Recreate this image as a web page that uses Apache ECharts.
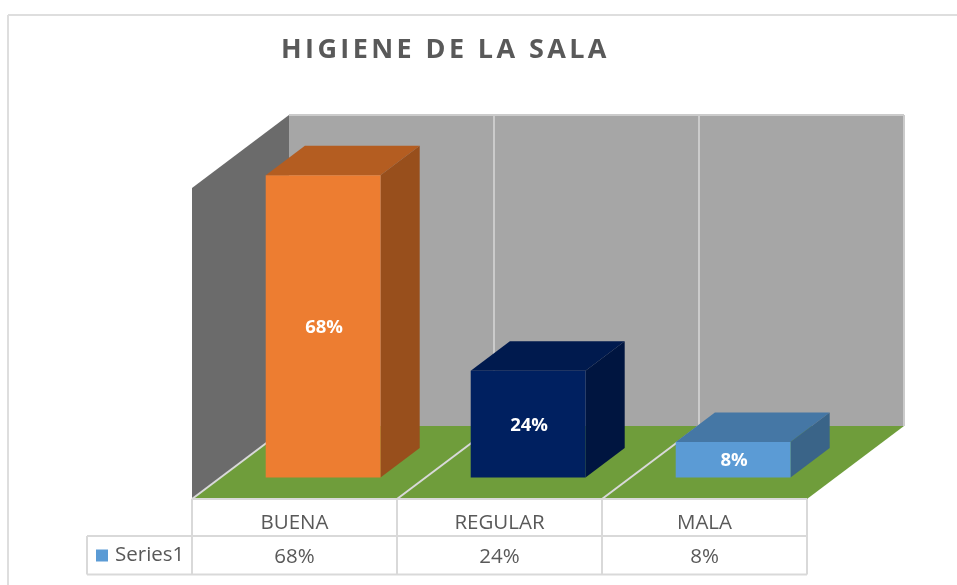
<!DOCTYPE html>
<html>
<head>
<meta charset="utf-8">
<style>html,body{margin:0;padding:0;background:#fff}#c{width:957px;height:585px}</style>
<script src="https://cdn.jsdelivr.net/npm/echarts@6/dist/echarts.min.js"></script>
</head>
<body>
<div id="c"></div>
<script>
const titleText = 'HIGIENE DE LA SALA';
const seriesName = 'Series1';
const categories = ['BUENA', 'REGULAR', 'MALA'];
const values = [0.68, 0.24, 0.08];
const valueLabels = ['68%', '24%', '8%'];
const frontColors = ['#ed7d31', '#002060', '#5b9bd5'];
const topColors = ['#b45d21', '#001a4e', '#4577a5'];
const sideColors = ['#984f1c', '#001540', '#3a6488'];

const DX = 97, DY = 73;           // full floor depth on screen
const GAP = 0.295, BAR_DEPTH = 0.404, BAR_WIDTH = 0.56;
const LINE = '#d9d9d9';
const WALL_LINE = '#cbcbcb';
const FONT = '"Open Sans", sans-serif';

// Canvas letter spacing for the title only; the title stays one text string.
const nativeFill = CanvasRenderingContext2D.prototype.fillText;
CanvasRenderingContext2D.prototype.fillText = function (t, x, y, m) {
  if (t === titleText) {
    const old = this.letterSpacing;
    this.letterSpacing = '3.4px';
    m === undefined ? nativeFill.call(this, t, x, y) : nativeFill.call(this, t, x, y, m);
    this.letterSpacing = old;
    return;
  }
  m === undefined ? nativeFill.call(this, t, x, y) : nativeFill.call(this, t, x, y, m);
};

function poly(points, fill, stroke, z2) {
  return {
    type: 'polygon', z2: z2 || 0,
    shape: { points },
    style: { fill, stroke: stroke || null, lineWidth: stroke ? 1.5 : 0 }
  };
}
function seg(a, b, z2, color) {
  return {
    type: 'line', z2: z2 || 1,
    shape: { x1: a[0], y1: a[1], x2: b[0], y2: b[1] },
    style: { stroke: color || LINE, lineWidth: 2 }
  };
}

function renderFrame(params, api) {
  const i = api.value(0);
  const cw = api.size([1, 0])[0];
  const b = api.coord([i, 0]);
  const t = api.coord([i, 0.7]);
  const l = b[0] - cw / 2, r = b[0] + cw / 2, y0 = b[1], yT = t[1];
  const rowH1 = 37, rowH2 = 38.5;
  const c = [];
  // back wall panel
  c.push(poly([[l + DX, yT - DY], [r + DX, yT - DY], [r + DX, y0 - DY], [l + DX, y0 - DY]], '#a6a6a6'));
  c.push(seg([l + DX, yT - DY], [r + DX, yT - DY], 1, WALL_LINE));
  c.push(seg([r + DX, yT - DY], [r + DX, y0 - DY], 1, WALL_LINE));
  // floor panel
  c.push(poly([[l, y0], [r, y0], [r + DX, y0 - DY], [l + DX, y0 - DY]], '#6f9d3b', null, 2));
  if (i < categories.length - 1) {
    c.push(seg([r, y0], [r + DX, y0 - DY], 3));
  }
  if (i === 0) {
    c.push(poly([[l, y0], [l, yT], [l + DX, yT - DY], [l + DX, y0 - DY]], '#6b6b6b', null, 4));
    c.push(seg([l, y0], [l + DX, y0 - DY], 5));
    c.push(seg([l, y0], [l, y0 + rowH1 + rowH2], 5));
    // legend cell
    c.push(seg([l - 105, y0 + rowH1], [l, y0 + rowH1], 5));
    c.push(seg([l - 105, y0 + rowH1 + rowH2], [l, y0 + rowH1 + rowH2], 5));
    c.push(seg([l - 105, y0 + rowH1], [l - 105, y0 + rowH1 + rowH2], 5));
  }
  // data table cell
  c.push(seg([l, y0], [r, y0], 5));
  c.push(seg([l, y0 + rowH1], [r, y0 + rowH1], 5));
  c.push(seg([l, y0 + rowH1 + rowH2], [r, y0 + rowH1 + rowH2], 5));
  c.push(seg([r, y0], [r, y0 + rowH1 + rowH2], 5));
  return { type: 'group', children: c };
}

function renderBar(params, api) {
  const i = api.value(0), v = api.value(1);
  const cw = api.size([1, 0])[0];
  const base = api.coord([i, 0]), top = api.coord([i, v]);
  const w = cw * BAR_WIDTH;
  const x0 = base[0] - w / 2 + DX * GAP, x1 = x0 + w;
  const yB = base[1] - DY * GAP, yT = top[1] - DY * GAP;
  const dx = DX * BAR_DEPTH, dy = DY * BAR_DEPTH;
  return {
    type: 'group',
    children: [
      poly([[x0, yT], [x1, yT], [x1 + dx, yT - dy], [x0 + dx, yT - dy]], topColors[i]),
      poly([[x1, yT], [x1, yB], [x1 + dx, yB - dy], [x1 + dx, yT - dy]], sideColors[i]),
      poly([[x0, yT], [x1, yT], [x1, yB], [x0, yB]], frontColors[i]),
      {
        type: 'text', z2: 10,
        style: {
          x: (x0 + x1) / 2 + 1, y: (yT + yB) / 2 + 1.5,
          text: valueLabels[i], fill: '#fff',
          font: 'bold 18.5px ' + FONT, align: 'center', verticalAlign: 'middle'
        }
      }
    ]
  };
}

const chart = echarts.init(document.getElementById('c'), null, { renderer: 'canvas' });
chart.setOption({
  animation: false,
  backgroundColor: '#fff',
  title: {
    text: titleText, left: 276, top: 32,
    textStyle: { color: '#595959', fontFamily: FONT, fontWeight: 'bold', fontSize: 27 }
  },
  legend: {
    data: [{ name: seriesName, icon: 'rect', itemStyle: { color: '#5b9bd5' } }],
    left: 96, top: 545, itemWidth: 12, itemHeight: 12, itemGap: 6, padding: 0,
    selectedMode: false,
    textStyle: { color: '#595959', fontFamily: FONT, fontSize: 20.5, padding: [2, 0, 0, 2] }
  },
  grid: { left: 192, right: 150, top: 188, bottom: 86 },
  xAxis: [
    {
      type: 'category', data: categories, position: 'bottom',
      axisLine: { show: false }, axisTick: { show: false }, splitLine: { show: false },
      axisLabel: { color: '#595959', fontFamily: FONT, fontSize: 20.5, margin: 14 }
    },
    {
      type: 'category', data: valueLabels, position: 'bottom', offset: 34,
      axisLine: { show: false }, axisTick: { show: false }, splitLine: { show: false },
      axisLabel: { color: '#595959', fontFamily: FONT, fontSize: 20.5, margin: 14 }
    }
  ],
  yAxis: { type: 'value', min: 0, max: 0.7, show: false, splitLine: { show: false } },
  graphic: [
    { type: 'line', z: -1, shape: { x1: 8, y1: 15, x2: 957, y2: 15 }, style: { stroke: '#dedede', lineWidth: 2 } },
    { type: 'line', z: -1, shape: { x1: 8, y1: 15, x2: 8, y2: 585 }, style: { stroke: '#dedede', lineWidth: 2 } }
  ],
  series: [
    {
      type: 'custom', name: 'frame', silent: true, z: 1,
      renderItem: renderFrame,
      encode: { x: 0, y: 1 },
      data: categories.map((c, i) => [i, 0])
    },
    {
      type: 'custom', name: seriesName, z: 2,
      renderItem: renderBar,
      itemStyle: { color: '#5b9bd5' },
      encode: { x: 0, y: 1 },
      data: values.map((v, i) => [i, v])
    }
  ]
});
</script>
</body>
</html>
